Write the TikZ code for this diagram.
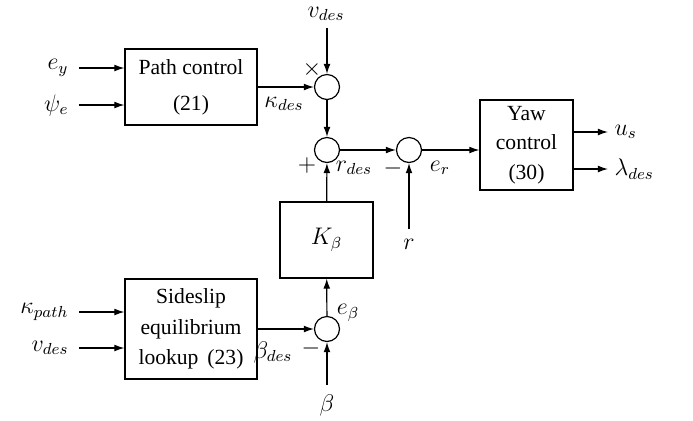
\documentclass[tikz,border=0pt]{standalone}
\usepackage{fontspec}
\setmainfont{Liberation Serif}
\usetikzlibrary{arrows.meta}
\begin{document}
\begin{tikzpicture}[x=0.5pt,y=-0.5pt,
  font=\fontsize{10.8}{13}\selectfont,
  line width=0.6pt,
  arr/.style={-{Latex[length=5pt,width=3.4pt]}},
  blk/.style={draw,align=center,inner sep=0pt},
  sumc/.style={draw,circle,minimum size=12.5pt,inner sep=0pt},
  lbl/.style={inner sep=0pt,font=\fontsize{12}{14}\selectfont}]
\useasboundingbox (0,0) rectangle (693,420);
% blocks
\node[blk,minimum width=66pt,minimum height=38pt] (path) at (191,87) {Path control\\[5pt](21)};
\node[blk,minimum width=46.5pt,minimum height=45pt] (yaw) at (526.5,145) {Yaw\\[1.8pt]control\\[1.8pt](30)};
\node[blk,minimum width=46.5pt,minimum height=38pt,font=\fontsize{11.5}{13}\selectfont] (K) at (326.5,240) {$K_\beta$};
\node[blk,minimum width=66pt,minimum height=50pt] (side) at (191,329) {Sideslip\\[2.3pt]equilibrium\\[2.3pt]lookup\ \,(23)};
% circles
\node[sumc] (mul) at (327,87) {};
\node[sumc] (sum) at (327,150) {};
\node[sumc] (cmp) at (409,150) {};
\node[sumc] (eb) at (327,329) {};
% free ends
\coordinate (ey0) at (79,68);
\coordinate (pe0) at (79,105);
\coordinate (vt0) at (327,28);
\coordinate (r0) at (409,229);
\coordinate (us0) at (608,132);
\coordinate (ld0) at (608,169);
\coordinate (kp0) at (79,312);
\coordinate (vd0) at (79,348);
\coordinate (b0) at (327,385);
% labels
\node[lbl,anchor=east] (eyl) at (69,68) {$e_y$};
\node[lbl,anchor=east] (pel) at (69,105) {$\psi_e$};
\node[lbl] (vtl) at (326,14) {$v_{des}$};
\node[lbl] (xl) at (312,69) {$\times$};
\node[lbl] (kdl) at (284,104) {$\kappa_{des}$};
\node[lbl] (pl) at (307,165) {$+$};
\node[lbl] (rdl) at (354,168) {$r_{des}$};
\node[lbl] (ml1) at (393,168) {$-$};
\node[lbl] (erl) at (440,168) {$e_r$};
\node[lbl] (rl) at (409,244) {$r$};
\node[lbl,anchor=west] (usl) at (614,132) {$u_s$};
\node[lbl,anchor=west] (ldl) at (614,169) {$\lambda_{des}$};
\node[lbl] (ebl) at (348,313) {$e_\beta$};
\node[lbl] (bdl) at (273,352) {$\beta_{des}$};
\node[lbl] (ml2) at (311,348) {$-$};
\node[lbl] (bl) at (327,405) {$\beta$};
\node[lbl,anchor=east] (kpl) at (69,312) {$\kappa_{path}$};
\node[lbl,anchor=east] (vdl) at (69,348) {$v_{des}$};
% connectors
\draw[arr] (ey0) -- (ey0 -| path.west);
\draw[arr] (pe0) -- (pe0 -| path.west);
\draw[arr] (path.east |- mul) -- (mul);
\draw[arr] (vt0) -- (mul);
\draw[arr] (mul) -- (sum);
\draw[arr] (sum) -- (cmp);
\draw[arr] (cmp) -- (yaw.west |- cmp);
\draw[arr] (r0) -- (cmp);
\draw[arr] (K) -- (sum);
\draw[arr] (yaw.east |- us0) -- (us0);
\draw[arr] (yaw.east |- ld0) -- (ld0);
\draw[arr] (eb) -- (K);
\draw[arr] (b0) -- (eb);
\draw[arr] (side.east |- eb) -- (eb);
\draw[arr] (kp0) -- (kp0 -| side.west);
\draw[arr] (vd0) -- (vd0 -| side.west);
\end{tikzpicture}
\end{document}
